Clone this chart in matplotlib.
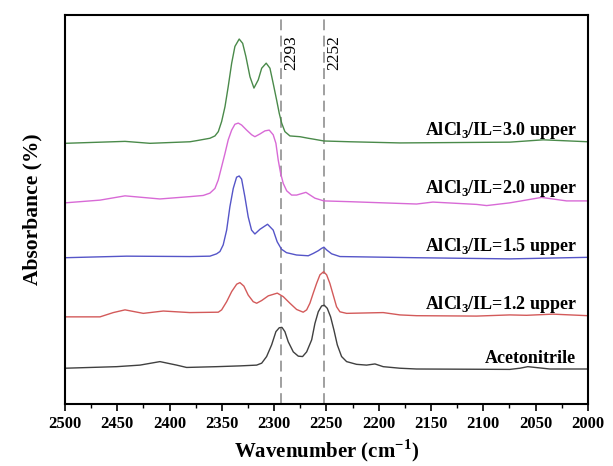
import numpy as np
import matplotlib
matplotlib.use("Agg")
import matplotlib.pyplot as plt
from matplotlib.ticker import MultipleLocator

plt.rcParams['font.family'] = ['Liberation Serif', 'DejaVu Serif']
plt.rcParams['mathtext.fontset'] = 'custom'
plt.rcParams['mathtext.rm'] = 'Liberation Serif'
plt.rcParams['mathtext.bf'] = 'Liberation Serif:bold'

# spectra (wavenumber, stacked absorbance)
wn_acn = [2500, 2450.6, 2428.3, 2409.2, 2393.2, 2383.7, 2355, 2332.7, 2316.7, 2311.9,
          2307.2, 2302.4, 2298.3, 2295.1, 2292.5, 2289.7, 2286.5, 2281.7, 2276.9, 2272.8,
          2268.9, 2264.1, 2261, 2257.8, 2254.6, 2252.1, 2249.2, 2246, 2242.8, 2239.6,
          2235.5, 2230.7, 2221.2, 2211.6, 2203.6, 2195.7, 2179.7, 2163.8, 2074.6, 2065,
          2057.4, 2036.3, 2000]
ab_acn = [9.2, 9.6, 10.0, 10.9, 10.0, 9.4, 9.6, 9.8, 10.0, 10.5,
          12.2, 15.2, 18.6, 19.6, 19.7, 18.6, 16.0, 13.4, 12.3, 12.2,
          13.4, 16.5, 20.7, 23.7, 25.2, 25.4, 24.6, 22.4, 19.0, 15.2,
          12.2, 10.9, 10.2, 10.0, 10.3, 9.6, 9.2, 9.0, 8.9, 9.2,
          9.6, 9.0, 9.0]

wn_12 = [2500, 2466.5, 2453.8, 2442.6, 2425.1, 2406, 2380.5, 2353.4, 2350.2, 2345.4,
         2340.6, 2335.8, 2332.7, 2328.9, 2324.8, 2320, 2316.7, 2311.9, 2305.6, 2297,
         2291.3, 2284.9, 2278.5, 2272.2, 2268.9, 2265.8, 2262.6, 2259.4, 2256.2, 2252.7,
         2249.8, 2246.7, 2243.5, 2240.3, 2237.1, 2230.7, 2195.7, 2179.7, 2163.8, 2106.4,
         2074.6, 2058.6, 2033.5, 2000]
ab_12 = [22.4, 22.4, 23.5, 24.2, 23.3, 23.9, 23.5, 23.6, 24.2, 26.3,
         28.9, 30.8, 31.2, 30.3, 28.0, 26.3, 25.9, 26.6, 27.8, 28.5,
         27.6, 25.9, 24.3, 23.6, 24.2, 25.9, 28.5, 31.0, 33.2, 34.0,
         33.2, 31.0, 28.0, 25.0, 23.7, 23.3, 23.5, 22.9, 22.7, 22.6,
         22.9, 22.8, 23.1, 22.7]

wn_15 = [2500, 2441, 2380.5, 2361.4, 2355, 2351.8, 2348.7, 2345.4, 2342.3, 2339.1,
         2335.9, 2333.4, 2331.1, 2328, 2324.8, 2321.6, 2318.4, 2313.6, 2306.3, 2300.9,
         2297.1, 2293, 2288.2, 2278.6, 2267.4, 2262.6, 2257.8, 2254.6, 2252.4, 2249.8,
         2245, 2237.1, 2163.8, 2074.6, 2000]
ab_15 = [37.6, 38.0, 37.9, 38.0, 38.6, 39.2, 40.9, 44.7, 50.7, 55.4,
         58.3, 58.6, 57.8, 53.3, 48.1, 44.7, 43.7, 44.9, 46.2, 44.7,
         41.7, 39.8, 38.9, 38.3, 38.1, 38.7, 39.4, 40.0, 40.3, 39.6,
         38.6, 37.9, 37.6, 37.3, 37.7]

wn_20 = [2500, 2466.5, 2442.6, 2409.2, 2380.5, 2367.8, 2361.4, 2356.6, 2353.4, 2350.2,
         2347, 2343.9, 2340.6, 2337.5, 2334.3, 2331.1, 2326.3, 2321.5, 2318.4, 2313.6,
         2308.8, 2304.7, 2300.9, 2298.3, 2296.1, 2293.8, 2291.3, 2288, 2283.3, 2278.5,
         2269.6, 2261, 2252.4, 2227.5, 2163.8, 2148.2, 2106.4, 2096.8, 2074.6, 2044.3,
         2020.4, 2000]
ab_20 = [51.7, 52.4, 53.5, 52.7, 53.3, 53.6, 54.2, 55.4, 57.6, 61.0,
         64.4, 67.9, 70.4, 71.9, 72.2, 71.7, 70.4, 69.2, 68.7, 69.4,
         70.2, 70.4, 69.2, 67.0, 62.7, 59.3, 56.7, 54.8, 53.7, 53.7,
         54.4, 52.9, 52.2, 52.0, 51.4, 51.9, 51.3, 51.0, 51.7, 53.1,
         52.2, 52.2]

wn_30 = [2500, 2442.6, 2418.7, 2380.5, 2373.8, 2361.4, 2356.6, 2353.4, 2350.2, 2347,
         2343.9, 2340.6, 2337.5, 2333.4, 2330.1, 2327, 2323.1, 2319.3, 2315.2, 2311.9,
         2307.6, 2304, 2300.9, 2297.6, 2295.1, 2292.8, 2289.7, 2284.9, 2275.3, 2267.4,
         2262.9, 2252.4, 2227.5, 2179.7, 2074.6, 2042.7, 2000]
ab_30 = [67.0, 67.5, 67.0, 67.4, 67.7, 68.3, 68.9, 70.0, 72.6, 76.4,
         81.6, 87.6, 91.9, 93.8, 92.7, 89.3, 84.1, 81.2, 83.3, 86.3,
         87.6, 86.3, 82.4, 78.1, 74.7, 72.2, 70.0, 68.9, 68.7, 68.3,
         68.1, 67.6, 67.4, 67.1, 67.3, 67.9, 67.4]

series = [
    (wn_acn, ab_acn, '#404040', 'Acetonitrile', 11.7),
    (wn_12, ab_12, '#d35a5a', r'AlCl$_\mathbf{3}$/IL=1.2 upper', 25.6),
    (wn_15, ab_15, '#5555c8', r'AlCl$_\mathbf{3}$/IL=1.5 upper', 40.4),
    (wn_20, ab_20, '#d86ad6', r'AlCl$_\mathbf{3}$/IL=2.0 upper', 55.3),
    (wn_30, ab_30, '#4a8a4a', r'AlCl$_\mathbf{3}$/IL=3.0 upper', 70.4),
]

peaks = [2293, 2252]

fig = plt.figure(figsize=(6.13, 4.66), dpi=100)
ax = fig.add_axes([0.106, 0.133, 0.853, 0.835])

for wn, ab, c, name, ty in series:
    ax.plot(wn, ab, color=c, lw=1.0)
    ax.text(2011, ty, name, ha='right', va='center', fontsize=13, fontweight='bold')

for p in peaks:
    ax.axvline(p, color='#999999', lw=1.3, ls=(0, (6, 3)), zorder=0)
    ax.text(p - 2, 94.8, str(p), rotation=90, ha='left', va='top', fontsize=12.5)

ax.set_xlim(2500, 2000)
ax.set_ylim(0, 100)
ax.xaxis.set_major_locator(MultipleLocator(50))
ax.xaxis.set_minor_locator(MultipleLocator(25))
ax.tick_params(axis='x', which='major', direction='out', length=5, width=1.2, labelsize=12)
ax.tick_params(axis='x', which='minor', direction='out', length=3, width=1.0)
ax.set_yticks([])
for lab in ax.get_xticklabels():
    lab.set_fontweight('bold')
for s in ax.spines.values():
    s.set_linewidth(1.5)

ax.set_xlabel(r'Wavenumber (cm$^{\mathbf{-1}}$)', fontsize=15, fontweight='bold', labelpad=4)
ax.set_ylabel('Absorbance (%)', fontsize=15.5, fontweight='bold', labelpad=16)

fig.savefig('out.png', dpi=100)
